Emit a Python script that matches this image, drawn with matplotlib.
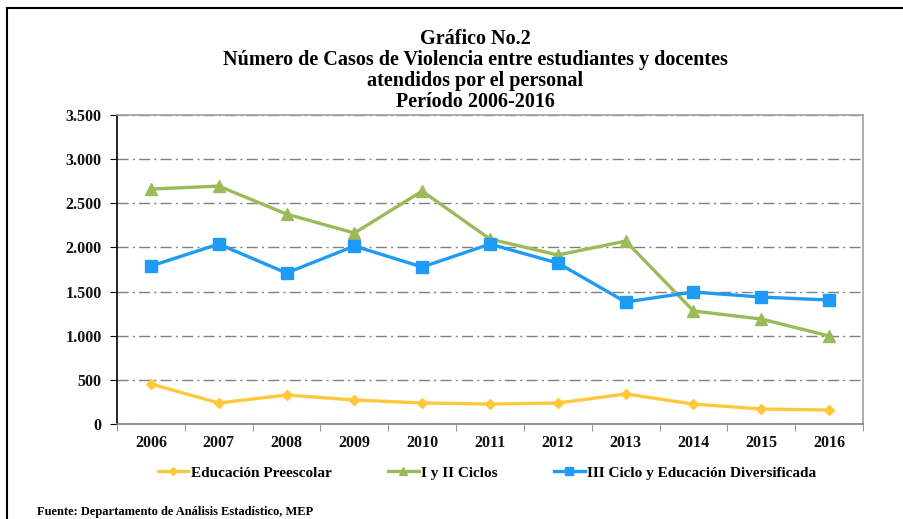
import matplotlib
matplotlib.use("Agg")
import matplotlib.pyplot as plt
from matplotlib.lines import Line2D
from matplotlib.ticker import FuncFormatter, FixedLocator
import numpy as np

years = ["2006", "2007", "2008", "2009", "2010", "2011", "2012", "2013", "2014", "2015", "2016"]
preescolar = [453, 238, 328, 272, 238, 226, 238, 340, 226, 170, 158]
ciclos_1_2 = [2661, 2695, 2378, 2163, 2638, 2095, 1914, 2072, 1280, 1189, 997]
ciclo_3_div = [1789, 2038, 1710, 2016, 1778, 2038, 1823, 1382, 1495, 1438, 1404]
series_names = ["Educación Preescolar", "I y II Ciclos", "III Ciclo y Educación Diversificada"]
yticks = [0, 500, 1000, 1500, 2000, 2500, 3000, 3500]

plt.rcParams['font.family'] = ['Liberation Serif', 'DejaVu Serif']

fig = plt.figure(figsize=(9.04, 5.19), dpi=100)
ax = fig.add_axes([117/904, 1 - 424/519, (863-117)/904, (424-115)/519])

x = np.arange(len(years))
c_y, c_g, c_b = '#FFC83A', '#9BBB59', '#1E9BF5'
ax.plot(x, preescolar, color=c_y, lw=2.4, marker='D', ms=5.5, zorder=3)
ax.plot(x, ciclos_1_2, color=c_g, lw=2.4, marker='^', ms=8, zorder=3)
ax.plot(x, ciclo_3_div, color=c_b, lw=2.4, marker='s', ms=8, zorder=3)

ax.set_xlim(-0.5, len(years) - 0.5)
ax.set_ylim(0, 3500)
ax.set_yticks(yticks)
ax.yaxis.set_major_formatter(FuncFormatter(lambda v, p: f"{int(v):,}".replace(",", ".")))
ax.set_xticks(x)
ax.set_xticklabels(years)
ax.xaxis.set_minor_locator(FixedLocator(np.arange(-0.5, len(years), 1.0)))
ax.tick_params(axis='x', which='major', length=0, pad=8)
ax.tick_params(axis='x', which='minor', length=5, color='#808080', direction='out')
ax.tick_params(axis='y', length=5, color='black', direction='out', pad=6)
for lab in ax.get_xticklabels() + ax.get_yticklabels():
    lab.set_fontweight('bold')
    lab.set_fontsize(11.5)
    lab.set_color('#111111')

ax.grid(axis='y', color='#808080', linestyle=(0, (8, 3, 1.5, 3)), lw=1.0)
ax.set_axisbelow(True)
ax.spines['left'].set_color('black')
ax.spines['bottom'].set_color('#808080')
ax.spines['top'].set_color('#a0a0a0')
ax.spines['right'].set_color('#a0a0a0')
for s in ax.spines.values():
    s.set_linewidth(1.2)

title = ("Gráfico No.2\nNúmero de Casos de Violencia entre estudiantes y docentes\n"
         "atendidos por el personal\nPeríodo 2006-2016")
fig.text(475/904, 1 - 29/519, title, ha='center', va='top', fontsize=14.5,
         fontweight='bold', linespacing=1.07)

handles = [
    Line2D([], [], color=c_y, lw=2.4, marker='D', ms=4.5),
    Line2D([], [], color=c_g, lw=2.4, marker='^', ms=5.5),
    Line2D([], [], color=c_b, lw=2.4, marker='s', ms=5.5),
]
leg = fig.legend(handles, series_names, loc='center', bbox_to_anchor=(487/904, 1 - 473/519),
                 ncol=3, frameon=False, prop={'weight': 'bold', 'size': 11},
                 handlelength=2.0, columnspacing=3.7, handletextpad=0.15)

fig.text(37/904, 1 - 512/519, "Fuente: Departamento de Análisis Estadístico, MEP",
         ha='left', va='center', fontsize=9, fontweight='bold')

# outer frame lines (top and left)
fig.add_artist(Line2D([7/904, 1.0], [1 - 8/519, 1 - 8/519], color='black', lw=1.5,
                      transform=fig.transFigure))
fig.add_artist(Line2D([7/904, 7/904], [0, 1 - 8/519], color='black', lw=1.5,
                      transform=fig.transFigure))

fig.savefig("out.png", dpi=100)
